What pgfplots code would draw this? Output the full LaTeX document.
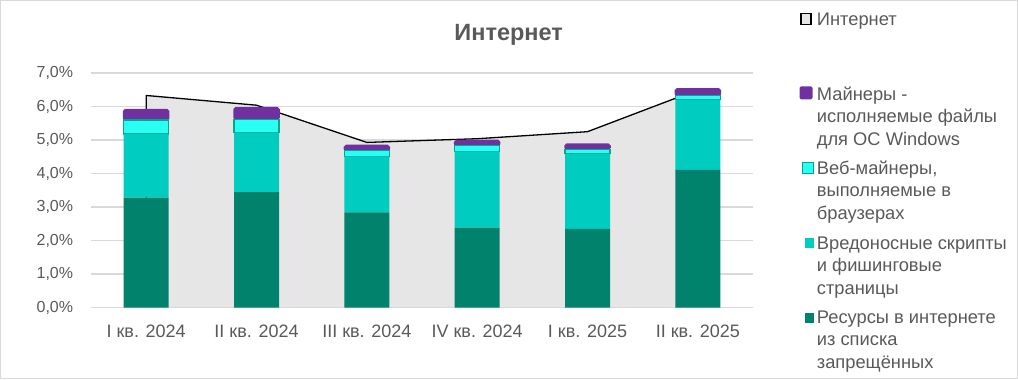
\documentclass[border=0pt]{standalone}
\usepackage{fontspec}
\setmainfont{Liberation Sans}
\usepackage{pgfplots}
\usepackage{pgfplotstable}
\pgfplotsset{compat=1.18}
\definecolor{txt}{HTML}{595959}
\definecolor{gridc}{HTML}{D9D9D9}
\definecolor{areac}{HTML}{E6E6E6}
\definecolor{dark}{HTML}{00826D}
\definecolor{med}{HTML}{00CCBF}
\definecolor{cyanl}{HTML}{29FFF3}
\definecolor{cyanb}{HTML}{00A88E}
\definecolor{purp}{HTML}{7030A0}

\pgfplotstableread{
x dark med cyan purp net
0 3.28 1.90 0.42 0.31 6.33
1 3.45 1.77 0.40 0.35 6.04
2 2.84 1.67 0.17 0.16 4.93
3 2.39 2.27 0.17 0.16 5.04
4 2.35 2.24 0.13 0.16 5.25
5 4.11 2.09 0.12 0.21 6.50
}\data

\begin{document}
\begin{tikzpicture}[x=1bp,y=1bp]
\useasboundingbox (0,0) rectangle (1018,379);
\draw[gridc, line width=1.5bp] (0.75,0.75) rectangle (1017.25,378.25);

% axis 1: grid, area, line, labels
\begin{axis}[
  at={(91bp,71.3bp)}, anchor=south west,
  scale only axis, width=662bp, height=234.7bp,
  xmin=-0.5, xmax=5.5, ymin=0, ymax=7,
  axis line style={draw=none},
  major tick length=0pt,
  ymajorgrids, grid style={gridc, line width=1.5bp},
  ytick={0,1,2,3,4,5,6,7},
  yticklabels={{0,0\%},{1,0\%},{2,0\%},{3,0\%},{4,0\%},{5,0\%},{6,0\%},{7,0\%}},
  yticklabel style={anchor=east, inner sep=0pt, xshift=-17.7bp, text=txt, font=\fontsize{16bp}{18bp}\selectfont},
  xtick={0,1,2,3,4,5},
  xticklabels={I кв. 2024, II кв. 2024, III кв. 2024, IV кв. 2024, I кв. 2025, II кв. 2025},
  xticklabel style={anchor=base, inner sep=0pt, yshift=-29.3bp, text=txt, font=\fontsize{18bp}{22bp}\selectfont},
  clip=false,
]
\addplot[fill=areac, draw=none] table[x=x, y=net] {\data} \closedcycle;
\addplot[black, line width=1.3bp, line join=round] coordinates {(0,0) (0,6.33) (1,6.04) (2,4.93) (3,5.04) (4,5.25) (5,6.50) (5,0)};
\end{axis}

% axis 2: stacked bars
\begin{axis}[
  at={(91bp,71.3bp)}, anchor=south west,
  scale only axis, width=662bp, height=234.7bp,
  xmin=-0.5, xmax=5.5, ymin=0, ymax=7,
  hide axis, clip=false,
  ybar stacked, bar width=45bp,
]
\addplot[fill=dark, draw=none] table[x=x, y=dark] {\data};
\addplot[fill=med, draw=none] table[x=x, y=med] {\data};
\addplot[fill=cyanl, draw=cyanb, line width=1.3bp] table[x=x, y=cyan] {\data};
\addplot[fill=purp, draw=purp, line width=1.5bp, rounded corners=1.8bp] table[x=x, y=purp] {\data};
\draw[gridc, line width=1.5bp] (axis cs:-0.5,0) -- (axis cs:5.5,0);
\end{axis}

% title
\node[anchor=base, text=txt, font=\fontsize{23.5bp}{26bp}\selectfont\bfseries, inner sep=0pt] at (508.7,338.3) {Интернет};

% legend
\begin{scope}[every node/.style={anchor=base west, inner sep=0pt, text=txt, font=\fontsize{18.3bp}{22bp}\selectfont}]
\filldraw[fill=areac, draw=black, line width=1.5bp] (800.8,354.5) rectangle (811.2,365.5);
\node at (816.7,354) {Интернет};
\fill[purp, rounded corners=1.5bp] (799.5,279.7) rectangle (812.5,292.7);
\node at (816.7,279) {Майнеры -};
\node at (816.7,256.5) {исполняемые файлы};
\node at (816.7,234) {для ОС Windows};
\filldraw[fill=cyanl, draw=cyanb, line width=1.5bp] (802.7,205.7) rectangle (813.3,216.3);
\node at (816.7,205) {Веб-майнеры,};
\node at (816.7,182.5) {выполняемые в};
\node at (816.7,160) {браузерах};
\fill[med] (804.5,131.5) rectangle (814,141);
\node at (816.7,130) {Вредоносные скрипты};
\node at (816.7,107.5) {и фишинговые};
\node at (816.7,85) {страницы};
\fill[dark] (804.5,56.5) rectangle (814,66);
\node at (816.7,56) {Ресурсы в интернете};
\node at (816.7,33.5) {из списка};
\node at (816.7,11) {запрещённых};
\end{scope}
\end{tikzpicture}
\end{document}
